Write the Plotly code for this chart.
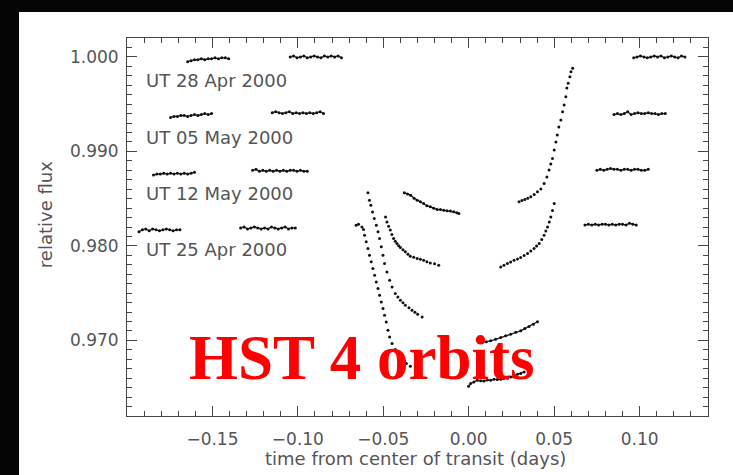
import plotly.graph_objects as go

# ---------------- data (time from centre of transit [d], relative flux) ----------------
# UT 28 Apr 2000 (baseline 1.000)
t_28apr_o1 = [-0.1645, -0.1625, -0.1605, -0.1585, -0.1565, -0.1545, -0.1525, -0.1505, -0.1485, -0.1465, -0.1445, -0.1425, -0.1405]
f_28apr_o1 = [0.9995, 0.9996, 0.9997, 0.9997, 0.9998, 0.9997, 0.9998, 0.9998, 0.9999, 0.9998, 0.9999, 0.9999, 0.9998]
t_28apr_o2 = [-0.1045, -0.1025, -0.1005, -0.0985, -0.0965, -0.0945, -0.0925, -0.0905, -0.0885, -0.0865, -0.0845, -0.0825, -0.0805, -0.0785, -0.0765, -0.0745]
f_28apr_o2 = [1.0000, 1.0001, 0.9999, 1.0000, 1.0001, 0.9999, 1.0000, 1.0001, 1.0000, 0.9999, 1.0001, 1.0000, 1.0001, 1.0000, 1.0001, 0.9999]
t_28apr_o3 = [-0.0377, -0.0358, -0.0340, -0.0320, -0.0302, -0.0283, -0.0264, -0.0245, -0.0225, -0.0205, -0.0185, -0.0166, -0.0146, -0.0127, -0.0107, -0.0088, -0.0070, -0.0058]
f_28apr_o3 = [0.98562, 0.98550, 0.98537, 0.98505, 0.98484, 0.98466, 0.98449, 0.98425, 0.98413, 0.98398, 0.98386, 0.98384, 0.98378, 0.98372, 0.98368, 0.98362, 0.98352, 0.98343]
t_28apr_o4 = [0.0294, 0.0311, 0.0328, 0.0345, 0.0363, 0.0383, 0.0402, 0.0422, 0.0441, 0.0457, 0.0470, 0.0480, 0.0490, 0.0500, 0.0510, 0.0518, 0.0527, 0.0539, 0.0549, 0.0558, 0.0568, 0.0574, 0.0582, 0.0592, 0.0598, 0.0608]
f_28apr_o4 = [0.98466, 0.98480, 0.98490, 0.98505, 0.98519, 0.98545, 0.98572, 0.98601, 0.98661, 0.98728, 0.98802, 0.98866, 0.98926, 0.99014, 0.99099, 0.99173, 0.99257, 0.99332, 0.99419, 0.99490, 0.99578, 0.99670, 0.99720, 0.99790, 0.99843, 0.99879]
t_28apr_o5 = [0.0965, 0.0985, 0.1005, 0.1025, 0.1045, 0.1065, 0.1085, 0.1105, 0.1125, 0.1145, 0.1165, 0.1185, 0.1205, 0.1225, 0.1245, 0.1265]
f_28apr_o5 = [0.9999, 1.0000, 1.0001, 1.0000, 0.9999, 1.0000, 1.0001, 1.0000, 1.0001, 0.9999, 1.0000, 1.0001, 1.0000, 0.9999, 1.0001, 1.0000]

# UT 05 May 2000 (baseline 0.994)
t_05may_o1 = [-0.1745, -0.1725, -0.1705, -0.1685, -0.1665, -0.1645, -0.1625, -0.1605, -0.1585, -0.1565, -0.1545, -0.1525, -0.1505]
f_05may_o1 = [0.9936, 0.9937, 0.9937, 0.9938, 0.9938, 0.9937, 0.9938, 0.9939, 0.9938, 0.9939, 0.9940, 0.9939, 0.9940]
t_05may_o2 = [-0.1150, -0.1130, -0.1110, -0.1090, -0.1070, -0.1050, -0.1030, -0.1010, -0.0990, -0.0970, -0.0950, -0.0930, -0.0910, -0.0890, -0.0870, -0.0850]
f_05may_o2 = [0.9941, 0.9942, 0.9941, 0.9940, 0.9941, 0.9942, 0.9940, 0.9941, 0.9940, 0.9941, 0.9940, 0.9941, 0.9940, 0.9941, 0.9942, 0.9940]
t_05may_o3 = [-0.0487, -0.0479, -0.0469, -0.0459, -0.0450, -0.0440, -0.0430, -0.0420, -0.0410, -0.0400, -0.0385, -0.0371, -0.0356, -0.0342, -0.0322, -0.0302, -0.0283, -0.0264, -0.0245, -0.0225, -0.0200, -0.0176]
f_05may_o3 = [0.98307, 0.98254, 0.98209, 0.98167, 0.98120, 0.98079, 0.98050, 0.98026, 0.98002, 0.97983, 0.97958, 0.97937, 0.97912, 0.97891, 0.97880, 0.97867, 0.97860, 0.97849, 0.97832, 0.97820, 0.97810, 0.97796]
t_05may_o4 = [0.0187, 0.0206, 0.0226, 0.0245, 0.0265, 0.0285, 0.0304, 0.0324, 0.0344, 0.0363, 0.0382, 0.0397, 0.0412, 0.0427, 0.0441, 0.0451, 0.0461, 0.0471, 0.0480, 0.0490, 0.0500]
f_05may_o4 = [0.97778, 0.97796, 0.97814, 0.97830, 0.97849, 0.97862, 0.97877, 0.97898, 0.97920, 0.97945, 0.97973, 0.97998, 0.98026, 0.98068, 0.98114, 0.98158, 0.98201, 0.98252, 0.98307, 0.98375, 0.98449]
t_05may_o5 = [0.0850, 0.0870, 0.0890, 0.0910, 0.0930, 0.0950, 0.0970, 0.0990, 0.1010, 0.1030, 0.1050, 0.1070, 0.1090, 0.1110, 0.1130, 0.1150]
f_05may_o5 = [0.9939, 0.9940, 0.9939, 0.9940, 0.9942, 0.9939, 0.9940, 0.9941, 0.9940, 0.9940, 0.9941, 0.9940, 0.9940, 0.9939, 0.9940, 0.9940]

# UT 12 May 2000 (baseline 0.988)
t_12may_o1 = [-0.1845, -0.1825, -0.1805, -0.1785, -0.1765, -0.1745, -0.1725, -0.1705, -0.1685, -0.1665, -0.1645, -0.1625, -0.1605]
f_12may_o1 = [0.9875, 0.9876, 0.9876, 0.9877, 0.9876, 0.9877, 0.9876, 0.9877, 0.9876, 0.9877, 0.9876, 0.9877, 0.9878]
t_12may_o2 = [-0.1265, -0.1245, -0.1225, -0.1205, -0.1185, -0.1165, -0.1145, -0.1125, -0.1105, -0.1085, -0.1065, -0.1045, -0.1025, -0.1005, -0.0985, -0.0965, -0.0945]
f_12may_o2 = [0.9880, 0.9881, 0.9879, 0.9880, 0.9879, 0.9880, 0.9879, 0.9880, 0.9879, 0.9880, 0.9879, 0.9880, 0.9880, 0.9879, 0.9880, 0.9879, 0.9879]
t_12may_o3 = [-0.0590, -0.0581, -0.0573, -0.0563, -0.0553, -0.0541, -0.0531, -0.0522, -0.0512, -0.0502, -0.0493, -0.0479, -0.0463, -0.0449, -0.0430, -0.0415, -0.0400, -0.0385, -0.0371, -0.0350, -0.0332, -0.0315, -0.0299, -0.0273]
f_12may_o3 = [0.98562, 0.98484, 0.98431, 0.98360, 0.98290, 0.98219, 0.98149, 0.98079, 0.97990, 0.97902, 0.97814, 0.97725, 0.97637, 0.97566, 0.97496, 0.97460, 0.97425, 0.97398, 0.97372, 0.97345, 0.97319, 0.97298, 0.97277, 0.97248]
t_12may_o4 = [0.0079, 0.0103, 0.0128, 0.0157, 0.0187, 0.0216, 0.0245, 0.0275, 0.0304, 0.0328, 0.0353, 0.0378, 0.0402]
f_12may_o4 = [0.96978, 0.96985, 0.96995, 0.97012, 0.97031, 0.97048, 0.97066, 0.97085, 0.97101, 0.97125, 0.97148, 0.97172, 0.97197]
t_12may_o5 = [0.0750, 0.0770, 0.0790, 0.0810, 0.0830, 0.0850, 0.0870, 0.0890, 0.0910, 0.0930, 0.0950, 0.0970, 0.0990, 0.1010, 0.1030, 0.1050]
f_12may_o5 = [0.9880, 0.9881, 0.9880, 0.9881, 0.9882, 0.9881, 0.9881, 0.9880, 0.9881, 0.9881, 0.9880, 0.9881, 0.9881, 0.9880, 0.9880, 0.9881]

# UT 25 Apr 2000 (baseline 0.982)
t_25apr_o1 = [-0.1930, -0.1910, -0.1890, -0.1870, -0.1850, -0.1830, -0.1810, -0.1790, -0.1770, -0.1750, -0.1730, -0.1710, -0.1690]
f_25apr_o1 = [0.9815, 0.9817, 0.9818, 0.9816, 0.9818, 0.9817, 0.9816, 0.9817, 0.9818, 0.9817, 0.9816, 0.9817, 0.9817]
t_25apr_o2 = [-0.1335, -0.1315, -0.1295, -0.1275, -0.1255, -0.1235, -0.1215, -0.1195, -0.1175, -0.1155, -0.1135, -0.1115, -0.1095, -0.1075, -0.1055, -0.1035, -0.1015]
f_25apr_o2 = [0.9819, 0.9820, 0.9818, 0.9819, 0.9820, 0.9819, 0.9818, 0.9819, 0.9818, 0.9820, 0.9819, 0.9818, 0.9819, 0.9820, 0.9818, 0.9819, 0.9819]
t_25apr_o3 = [-0.0659, -0.0645, -0.0625, -0.0616, -0.0610, -0.0600, -0.0590, -0.0581, -0.0571, -0.0561, -0.0551, -0.0541, -0.0531, -0.0522, -0.0512, -0.0502, -0.0493, -0.0483, -0.0473, -0.0463, -0.0449, -0.0430, -0.0410, -0.0390, -0.0365, -0.0342]
f_25apr_o3 = [0.98219, 0.98230, 0.98201, 0.98174, 0.98114, 0.98043, 0.97973, 0.97902, 0.97831, 0.97761, 0.97690, 0.97619, 0.97549, 0.97478, 0.97407, 0.97337, 0.97266, 0.97195, 0.97107, 0.97037, 0.96966, 0.96903, 0.96843, 0.96797, 0.96755, 0.96726]
t_25apr_o4 = [-0.0001, 0.0011, 0.0030, 0.0050, 0.0070, 0.0089, 0.0108, 0.0128, 0.0148, 0.0167, 0.0187, 0.0206, 0.0226, 0.0245, 0.0265, 0.0285, 0.0304, 0.0324]
f_25apr_o4 = [0.96514, 0.96543, 0.96560, 0.96578, 0.96572, 0.96570, 0.96580, 0.96578, 0.96590, 0.96585, 0.96588, 0.96596, 0.96600, 0.96613, 0.96628, 0.96642, 0.96650, 0.96666]
t_25apr_o5 = [0.0680, 0.0700, 0.0720, 0.0740, 0.0760, 0.0780, 0.0800, 0.0820, 0.0840, 0.0860, 0.0880, 0.0900, 0.0920, 0.0940, 0.0960, 0.0980]
f_25apr_o5 = [0.9822, 0.9823, 0.9822, 0.9823, 0.9822, 0.9823, 0.9823, 0.9822, 0.9823, 0.9822, 0.9823, 0.9823, 0.9822, 0.9824, 0.9823, 0.9822]

visit_labels = ["UT 28 Apr 2000", "UT 05 May 2000", "UT 12 May 2000", "UT 25 Apr 2000"]
label_flux = [0.99755, 0.99152, 0.98558, 0.97965]
label_time = -0.1898

x_ticks = [-0.15, -0.10, -0.05, 0.00, 0.05, 0.10]
y_ticks = [0.970, 0.980, 0.990, 1.000]
x_title = "time from center of transit (days)"
y_title = "relative flux"
banner = "HST 4 orbits"

# slowly varying (densely sampled) segments drawn as connected dots; steep ones as dots only
smooth_segments = [
    (t_28apr_o1, f_28apr_o1), (t_28apr_o2, f_28apr_o2), (t_28apr_o3, f_28apr_o3), (t_28apr_o5, f_28apr_o5),
    (t_05may_o1, f_05may_o1), (t_05may_o2, f_05may_o2), (t_05may_o5, f_05may_o5),
    (t_12may_o1, f_12may_o1), (t_12may_o2, f_12may_o2), (t_12may_o4, f_12may_o4), (t_12may_o5, f_12may_o5),
    (t_25apr_o1, f_25apr_o1), (t_25apr_o2, f_25apr_o2), (t_25apr_o4, f_25apr_o4), (t_25apr_o5, f_25apr_o5),
]
steep_segments = [
    (t_28apr_o4, f_28apr_o4), (t_05may_o3, f_05may_o3), (t_05may_o4, f_05may_o4),
    (t_12may_o3, f_12may_o3), (t_25apr_o3, f_25apr_o3),
]

fig = go.Figure()
for t, f in smooth_segments:
    fig.add_trace(go.Scatter(x=t, y=f, mode="lines+markers",
                             line=dict(color="#222222", width=1.3),
                             marker=dict(color="#111111", size=3, line=dict(width=0)),
                             showlegend=False, hoverinfo="skip"))
for t, f in steep_segments:
    fig.add_trace(go.Scatter(x=t, y=f, mode="markers",
                             marker=dict(color="#111111", size=3, line=dict(width=0)),
                             showlegend=False, hoverinfo="skip"))

FONT = "DejaVu Sans"
TXT = "#555555"
axis_common = dict(
    showline=True, linecolor="#444444", linewidth=1, mirror="allticks",
    ticks="inside", ticklen=10, tickwidth=1, tickcolor="#444444",
    showgrid=False, zeroline=False,
    tickfont=dict(family=FONT, size=17, color=TXT),
)
fig.update_xaxes(range=[-0.20, 0.14], tickvals=x_ticks, tickformat=".2f",
                 minor=dict(ticks="inside", ticklen=5, tickwidth=1, tickcolor="#444444", dtick=0.01, tick0=0),
                 ticklabelstandoff=8, **axis_common)
fig.update_yaxes(range=[0.962, 1.002], tickvals=y_ticks, tickformat=".3f",
                 minor=dict(ticks="inside", ticklen=5, tickwidth=1, tickcolor="#444444", dtick=0.001, tick0=0.96),
                 ticklabelstandoff=4, **axis_common)

annotations = []
for lab, yv in zip(visit_labels, label_flux):
    annotations.append(dict(x=label_time, y=yv, xref="x", yref="y", text=lab, showarrow=False,
                            xanchor="left", yanchor="middle",
                            font=dict(family=FONT, size=18, color=TXT)))
annotations.append(dict(x=0.4974, y=-0.112, xref="paper", yref="paper", text=x_title, showarrow=False,
                        xanchor="center", yanchor="middle", font=dict(family=FONT, size=18, color=TXT)))
annotations.append(dict(x=-0.1411, y=0.5314, xref="paper", yref="paper", text=y_title, showarrow=False,
                        textangle=-90, xanchor="center", yanchor="middle",
                        font=dict(family=FONT, size=18, color=TXT)))
annotations.append(dict(x=-0.1651, y=0.9681, xref="x", yref="y", text="<b>" + banner + "</b>", showarrow=False,
                        xanchor="left", yanchor="middle",
                        font=dict(family="Liberation Serif", size=63, color="#ff0000")))

fig.update_layout(
    width=733, height=475,
    margin=dict(l=127, r=25, t=38, b=59),
    paper_bgcolor="#050505", plot_bgcolor="white",
    annotations=annotations,
    shapes=[dict(type="rect", xref="paper", yref="paper", x0=-0.1859, x1=1.2, y0=-0.3, y1=1.0688,
                 fillcolor="white", line=dict(width=0), layer="below")],
)

fig.write_html("out.html")
